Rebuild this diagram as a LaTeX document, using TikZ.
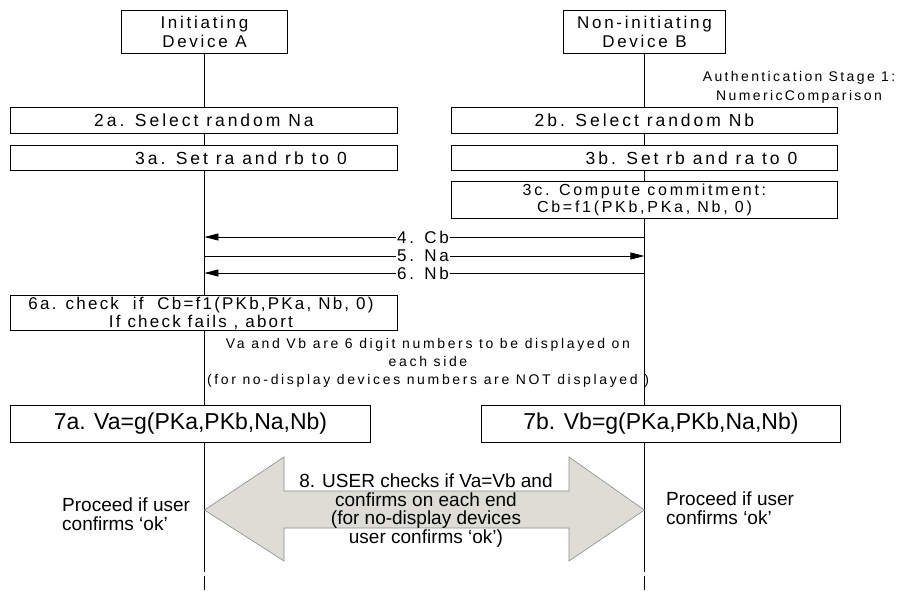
\documentclass[tikz,border=0pt]{standalone}
\usepackage{fontspec}
\setmainfont{Liberation Sans}
\newfontfamily\lsp[LetterSpace=17]{Liberation Sans}
\newfontfamily\lsph[LetterSpace=16]{Liberation Sans}
\newfontfamily\lspw[LetterSpace=19]{Liberation Sans}
\newfontfamily\lspn[LetterSpace=13]{Liberation Sans}
\usetikzlibrary{arrows.meta}
\begin{document}
\begin{tikzpicture}[x=1pt,y=-1pt,
  box/.style={draw, line width=0.9pt, fill=white, inner sep=0pt, anchor=north west},
  life/.style={line width=0.9pt},
  msg/.style={line width=0.9pt, -{Triangle[length=14pt,width=7pt]}},
  mlabel/.style={fill=white, inner sep=1pt, font=\lsp\fontsize{17}{18}\selectfont},
  big/.style={font=\lsp\fontsize{17.5}{18}\selectfont, align=center, inner sep=0pt},
  head/.style={font=\lsph\fontsize{17}{19}\selectfont, align=center, inner sep=0pt},
  small/.style={font=\lspw\fontsize{14}{18}\selectfont, align=center, inner sep=0pt},
  plain/.style={font=\fontsize{19}{18.5}\selectfont, align=center, inner sep=0pt},
  plainl/.style={font=\fontsize{19}{19.5}\selectfont, align=left, inner sep=0pt},
  vbox/.style={font=\fontsize{23}{24}\selectfont, inner sep=0pt}
]
\useasboundingbox (0,0) rectangle (899,590);
\fill[white] (0,0) rectangle (899,590);

% header boxes
\node[box, minimum width=166pt, minimum height=43pt] (hA) at (121,10) {};
\node[head] at (hA.center) {Initiating\\Device A};
\node[box, minimum width=162pt, minimum height=43pt] (hB) at (563,10) {};
\node[head] at (hB.center) {Non-initiating\\Device B};

% lifelines
\coordinate (A1) at (hA.south |- 0,572);
\coordinate (A2) at (hA.south |- 0,576);
\coordinate (A3) at (hA.south |- 0,590);
\coordinate (B1) at (hB.south |- 0,572);
\coordinate (B2) at (hB.south |- 0,576);
\coordinate (B3) at (hB.south |- 0,590);
\draw[life] (hA.south) -- (A1) (A2) -- (A3);
\draw[life] (hB.south) -- (B1) (B2) -- (B3);

\node[small, font=\lsp\fontsize{14}{19}\selectfont] (stage) at (799,87.5) {Authentication Stage 1:\\NumericComparison};

% step boxes
\node[box, minimum width=387pt, minimum height=26pt] (s2a) at (10,107) {};
\node[big] at (s2a.center) {2a. Select random Na};
\node[box, minimum width=386pt, minimum height=26pt] (s2b) at (451,107) {};
\node[big] at (s2b.center) {2b. Select random Nb};
\node[box, minimum width=387pt, minimum height=25pt] (s3a) at (10,145) {};
\node[big] at ([xshift=37pt]s3a.center) {3a. Set ra and rb to 0};
\node[box, minimum width=386pt, minimum height=25pt] (s3b) at (451,145) {};
\node[big] at ([xshift=47pt]s3b.center) {3b. Set rb and ra to 0};
\node[box, minimum width=386pt, minimum height=37pt] (s3c) at (451,181) {};
\node[big, font=\lsp\fontsize{16}{17.5}\selectfont] at (s3c.center) {3c. Compute commitment:\\Cb=f1(PKb,PKa, Nb, 0)};

% messages
\coordinate (a4) at (hA.south |- 0,237);
\coordinate (b4) at (hB.south |- 0,237);
\coordinate (a5) at (hA.south |- 0,256);
\coordinate (b5) at (hB.south |- 0,256);
\coordinate (a6) at (hA.south |- 0,273);
\coordinate (b6) at (hB.south |- 0,273);
\draw[msg] (b4) -- (a4);
\draw[msg] (a5) -- (b5);
\draw[msg] (b6) -- (a6);
\node[mlabel] at (423,237) {4. Cb};
\node[mlabel] at (423,256) {5. Na};
\node[mlabel] at (423,273) {6. Nb};

% 6a
\node[box, minimum width=387pt, minimum height=35pt] (s6a) at (10,295) {};
\node[big, font=\lspn\fontsize{17}{18}\selectfont] at ([xshift=-3pt]s6a.center) {6a. check\ \ if\ \ Cb=f1(PKb,PKa, Nb, 0)\\If check fails , abort};

\node[small] (note) at (428,363) {Va and Vb are 6 digit numbers to be displayed on\\each side\\(for no-display devices numbers are NOT displayed )};

% 7a / 7b
\node[box, minimum width=360pt, minimum height=37pt] (s7a) at (10,405) {};
\node[vbox] at (s7a.center) {7a. Va=g(PKa,PKb,Na,Nb)};
\node[box, minimum width=359pt, minimum height=37pt] (s7b) at (481,405) {};
\node[vbox] at (s7b.center) {7b. Vb=g(PKa,PKb,Na,Nb)};

% big double arrow
\draw[line width=0.6pt, draw=black!45, fill={rgb,255:red,221;green,221;blue,214}]
  (hA.south |- 0,510) -- (284,457) -- (284,491) -- (569,491) -- (569,457)
  -- (hB.south |- 0,510) -- (569,561) -- (569,528) -- (284,528) -- (284,561) -- cycle;
\node[plain] (user) at (426,510.5) {8. USER checks if Va=Vb and\\confirms on each end\\(for no-display devices\\user confirms ‘ok’)};

\node[plainl, anchor=west] (pA) at (62,514) {Proceed if user\\confirms ‘ok’};
\node[plainl, anchor=west] (pB) at (666,508) {Proceed if user\\confirms ‘ok’};
\end{tikzpicture}
\end{document}
